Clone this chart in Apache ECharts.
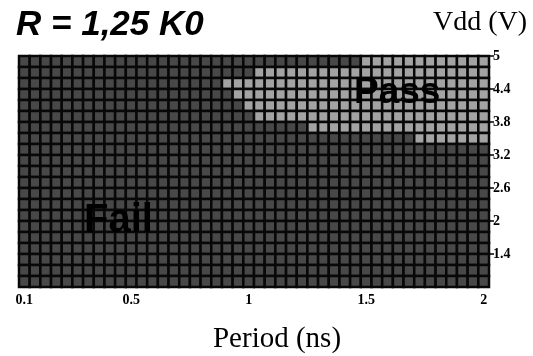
<!DOCTYPE html>
<html>
<head>
<meta charset="utf-8">
<script src="https://cdn.jsdelivr.net/npm/echarts@6/dist/echarts.min.js"></script>
<style>
  html, body { margin: 0; padding: 0; background: #fff; }
  #shmoo { width: 533px; height: 356px; }
</style>
</head>
<body>
<div id="shmoo"></div>
<script>
  // Vdd of each row, top row first (0.2 V per row)
  var vdd = [4.9, 4.7, 4.5, 4.3, 4.1, 3.9, 3.7, 3.5, 3.3, 3.1, 2.9,
             2.7, 2.5, 2.3, 2.1, 1.9, 1.7, 1.5, 1.3, 1.1, 0.9];
  // first passing column in each row (44 = whole row fails)
  var passFrom = [32, 22, 19, 20, 21, 22, 27, 37, 44, 44, 44,
                  44, 44, 44, 44, 44, 44, 44, 44, 44, 44];
  var nCols = 44;
  var xTickCols = [0, 10, 21, 32, 43];
  var xTickLabels = ['0.1', '0.5', '1', '1.5', '2'];
  var yTicks = [1.4, 2, 2.6, 3.2, 3.8, 4.4, 5];

  var cols = [];
  for (var i = 0; i < nCols; i++) cols.push(String(i));

  var cells = [];
  for (var r = 0; r < vdd.length; r++) {
    for (var c = 0; c < nCols; c++) {
      cells.push([c, vdd[r], c >= passFrom[r] ? 1 : 0]);
    }
  }

  var chart = echarts.init(document.getElementById('shmoo'));
  chart.setOption({
    backgroundColor: '#fff',
    animation: false,
    title: [{
      text: 'R = 1,25 K0',
      left: 11, top: 3,
      textStyle: { fontFamily: 'Liberation Sans', fontSize: 35, fontWeight: 'bold', fontStyle: 'italic', color: '#000' }
    }, {
      text: 'Vdd (V)',
      right: 1, top: 4,
      textStyle: { fontFamily: 'Liberation Serif', fontSize: 28, fontWeight: 'normal', color: '#000' }
    }],
    grid: { left: 19, right: 44, top: 56, bottom: 69, outerBoundsMode: 'none' },
    xAxis: {
      type: 'category',
      data: cols,
      name: 'Period (ns)',
      nameLocation: 'middle',
      nameGap: 38,
      nameTextStyle: { fontFamily: 'Liberation Serif', fontSize: 29, color: '#000', padding: [0, 0, 0, 46] },
      axisLine: { show: false },
      axisTick: { show: false },
      axisLabel: {
        interval: 0,
        margin: 6,
        fontFamily: 'Liberation Serif', fontSize: 14, fontWeight: 'bold', color: '#000',
        formatter: function (v) {
          var k = xTickCols.indexOf(Number(v));
          return k >= 0 ? xTickLabels[k] : '';
        }
      },
      splitLine: { show: false }
    },
    yAxis: {
      type: 'value',
      position: 'right',
      min: 0.8,
      max: 5,
      axisLine: { show: false },
      axisTick: { show: true, length: 5, customValues: yTicks, lineStyle: { color: '#000', width: 1.5 } },
      axisLabel: {
        customValues: yTicks,
        margin: 4,
        fontFamily: 'Liberation Serif', fontSize: 14, fontWeight: 'bold', color: '#000'
      },
      splitLine: { show: false }
    },
    graphic: [{
      type: 'text', left: 354, top: 74, z: 100,
      style: { text: 'Pass', fontFamily: 'Liberation Sans', fontSize: 37, fontWeight: 'bold', fill: '#000' }
    }, {
      type: 'text', left: 84, top: 201, z: 100,
      style: { text: 'Fail', fontFamily: 'Liberation Sans', fontSize: 40, fontWeight: 'bold', fill: '#000' }
    }],
    series: [{
      type: 'custom',
      encode: { x: 0, y: 1 },
      data: cells,
      renderItem: function (params, api) {
        var p = api.coord([api.value(0), api.value(1)]);
        var s = api.size([1, 0.2]);
        return {
          type: 'rect',
          shape: { x: p[0] - s[0] / 2, y: p[1] - s[1] / 2, width: s[0], height: s[1] },
          style: { fill: api.value(2) ? '#a3a3a3' : '#484848', stroke: '#080808', lineWidth: 2.5 }
        };
      }
    }]
  });
</script>
</body>
</html>
